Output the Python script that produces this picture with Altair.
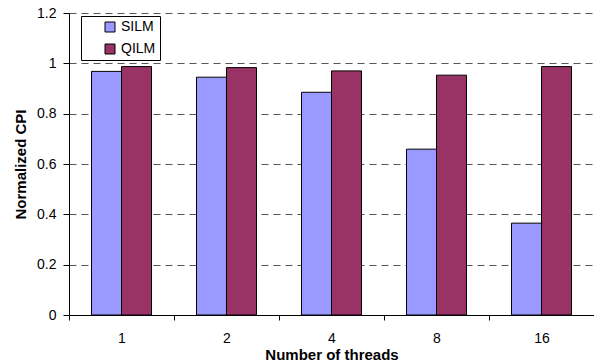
import altair as alt
import pandas as pd

threads = ["1", "2", "4", "8", "16"]
silm = [0.968, 0.945, 0.885, 0.659, 0.365]
qilm = [0.987, 0.983, 0.970, 0.953, 0.987]
series = ["SILM", "QILM"]
colors = ["#9999FF", "#993366"]

rows = []
for i, t in enumerate(threads):
    rows.append({"threads": t, "scheme": "SILM", "cpi": silm[i]})
    rows.append({"threads": t, "scheme": "QILM", "cpi": qilm[i]})
df = pd.DataFrame(rows)

font = "Liberation Sans"

chart = alt.Chart(df).mark_bar(stroke="black", strokeWidth=1).encode(
    x=alt.X("threads:N", sort=threads,
            scale=alt.Scale(paddingInner=0, paddingOuter=0),
            axis=alt.Axis(title="Number of threads", labelAngle=0, tickBand="extent",
                          domainColor="black", tickColor="black", tickSize=5,
                          labelPadding=11, labelFontSize=14, labelFont=font, labelColor="black",
                          titleFont=font, titleFontSize=15, titleFontWeight="bold",
                          titleColor="black", titlePadding=2, grid=False)),
    xOffset=alt.XOffset("scheme:N", sort=series,
                        scale=alt.Scale(paddingInner=0, paddingOuter=0.75)),
    y=alt.Y("cpi:Q", scale=alt.Scale(domain=[0, 1.2]),
            axis=alt.Axis(title="Normalized CPI", values=[0, 0.2, 0.4, 0.6, 0.8, 1.0, 1.2],
                          format="~g", domainColor="black", tickColor="black", tickSize=6,
                          labelPadding=7, labelFontSize=14, labelFont=font, labelColor="black",
                          titleFont=font, titleFontSize=15, titleFontWeight="bold",
                          titleColor="black", titlePadding=8,
                          grid=True, gridDash=[7, 5], gridColor="#555555", gridWidth=1)),
    color=alt.Color("scheme:N", sort=series,
                    scale=alt.Scale(domain=series, range=colors),
                    legend=alt.Legend(title=None, orient="none", legendX=12, legendY=3,
                                      symbolType="square", symbolSize=100,
                                      symbolStrokeColor="black", symbolStrokeWidth=1,
                                      labelFont=font, labelFontSize=14, labelColor="black",
                                      padding=4, rowPadding=8, symbolOffset=18, labelOffset=4,
                                      strokeColor="black", fillColor="white")),
).properties(
    width=525, height=302,
    autosize=alt.AutoSizeParams(type="none"),
    padding={"left": 69, "top": 13, "right": 0, "bottom": 49},
).configure(font=font).configure_view(stroke=None)

chart.save("out.html", embed_options={"renderer": "svg", "actions": False})
